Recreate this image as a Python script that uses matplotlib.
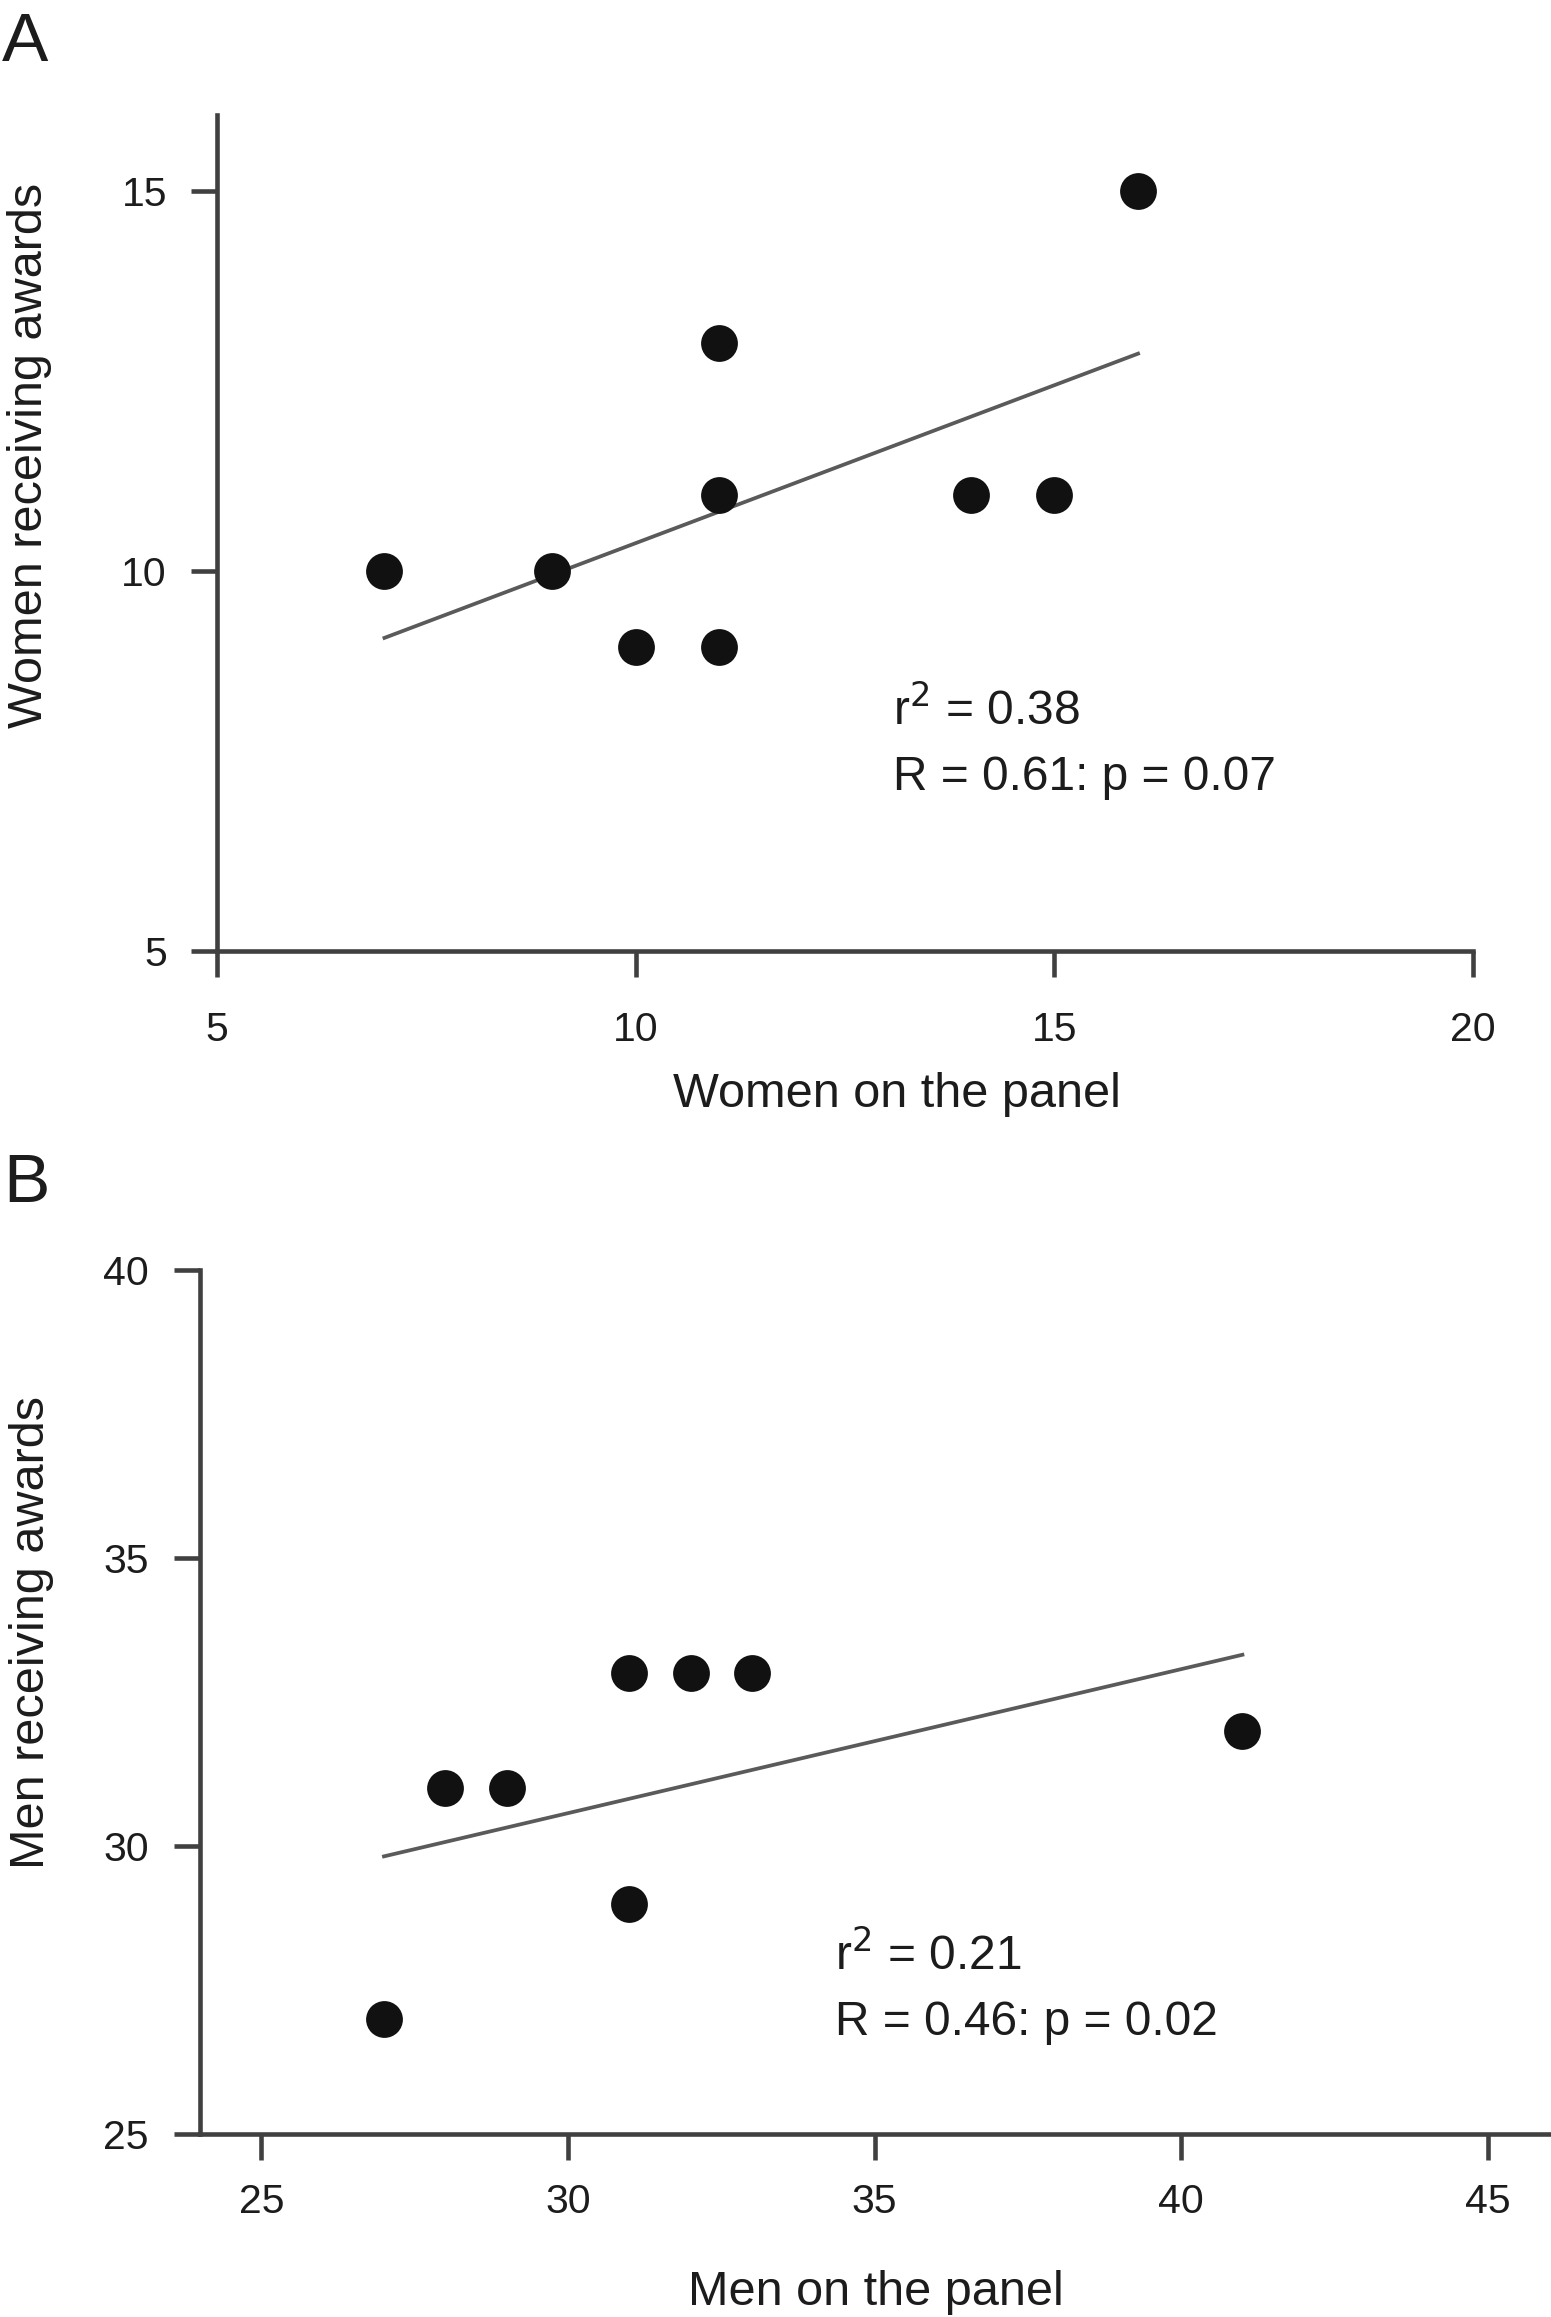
import matplotlib
matplotlib.use("Agg")
import matplotlib.pyplot as plt

plt.rcParams['font.family'] = ['Liberation Sans', 'DejaVu Sans']

# panel A: women
women_panel = [7, 9, 10, 11, 11, 11, 14, 15, 16]
women_awards = [10, 10, 9, 9, 11, 13, 11, 11, 15]
women_fit_x = [7, 16]
women_fit_y = [9.12, 12.86]
women_xticks = [5, 10, 15, 20]
women_yticks = [5, 10, 15]
women_stats = ["r$^{2}$ = 0.38", "R = 0.61: p = 0.07"]

# panel B: men
men_panel = [27, 28, 29, 31, 31, 32, 33, 41]
men_awards = [27, 31, 31, 33, 29, 33, 33, 32]
men_fit_x = [27, 41]
men_fit_y = [29.82, 33.32]
men_xticks = [25, 30, 35, 40, 45]
men_yticks = [25, 30, 35, 40]
men_stats = ["r$^{2}$ = 0.21", "R = 0.46: p = 0.02"]

W, H = 1551, 2317
AXIS_COL = '#404040'
TEXT_COL = '#1c1c1c'

fig = plt.figure(figsize=(W / 100, H / 100), dpi=100)


def style_axes(ax, xpad, ypad):
    for s in ['top', 'right']:
        ax.spines[s].set_visible(False)
    for s in ['left', 'bottom']:
        ax.spines[s].set_linewidth(3.3)
        ax.spines[s].set_color(AXIS_COL)
    ax.tick_params(axis='both', direction='out', length=19, width=3.3,
                   color=AXIS_COL, labelsize=29.5, labelcolor=TEXT_COL)
    ax.tick_params(axis='x', pad=xpad)
    ax.tick_params(axis='y', pad=ypad)


def draw_panel(ax, x, y, fx, fy, stats, stat_xy, line_gap):
    ax.plot(fx, fy, color='#5a5a5a', lw=2.7, zorder=2)
    ax.plot(x, y, 'o', color='#111111', ms=26.5, mec='none', zorder=3, clip_on=False)
    sx, sy = stat_xy
    ax.text(sx, sy, stats[0], fontsize=34.5, color=TEXT_COL, va='baseline')
    ax.text(sx, sy - line_gap, stats[1], fontsize=34.5, color=TEXT_COL, va='baseline')


# ---- A ----
axA = fig.add_axes([217 / W, 1 - 951 / H, (1473 - 217) / W, (951 - 115) / H])
draw_panel(axA, women_panel, women_awards, women_fit_x, women_fit_y,
           women_stats, (13.07, 7.97), 0.855)
axA.set_xlim(5, 20)
axA.set_ylim(5, 16)
axA.set_xticks(women_xticks)
axA.set_yticks(women_yticks)
style_axes(axA, 24, 17)
axA.set_xlabel("Women on the panel", fontsize=35, color=TEXT_COL)
axA.xaxis.set_label_coords(0.541, -0.1866)
axA.xaxis.label.set_va('baseline')
axA.set_ylabel("Women receiving awards", fontsize=35, color=TEXT_COL)
axA.yaxis.set_label_coords(-0.139, 0.593)
axA.yaxis.label.set_va('baseline')

# ---- B ----
axB = fig.add_axes([200 / W, 1 - 2134 / H, (1549 - 200) / W, (2134 - 1270) / H])
draw_panel(axB, men_panel, men_awards, men_fit_x, men_fit_y,
           men_stats, (34.35, 27.85), 1.13)
axB.set_xlim(24, 46)
axB.set_ylim(25, 40)
axB.set_xticks(men_xticks)
axB.set_yticks(men_yticks)
style_axes(axB, 16, 18)
axB.set_xlabel("Men on the panel", fontsize=35, color=TEXT_COL)
axB.xaxis.set_label_coords(0.501, -0.198)
axB.xaxis.label.set_va('baseline')
axB.set_ylabel("Men receiving awards", fontsize=35, color=TEXT_COL)
axB.yaxis.set_label_coords(-0.116, 0.5805)
axB.yaxis.label.set_va('baseline')

# panel letters
fig.text(2 / W, 1 - 61 / H, "A", fontsize=50, color=TEXT_COL, va='baseline')
fig.text(3 / W, 1 - 1202 / H, "B", fontsize=50, color=TEXT_COL, va='baseline')

fig.savefig("out.png", dpi=100)
